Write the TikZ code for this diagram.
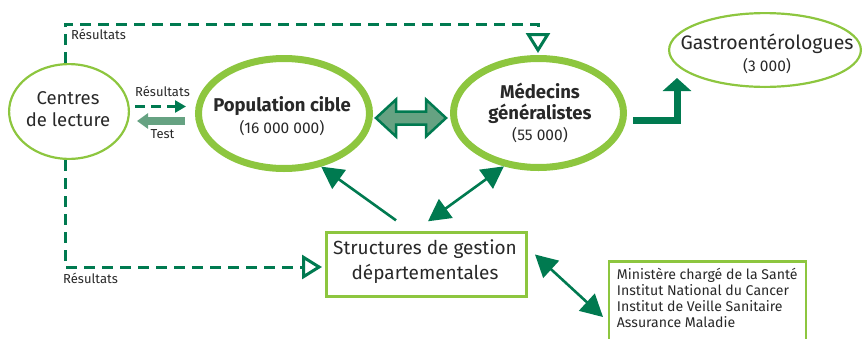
\documentclass[tikz,border=0pt]{standalone}
\usepackage{fontspec}
\setmainfont{Fira Sans}
\usetikzlibrary{arrows.meta,shapes.geometric,calc}
\definecolor{leaf}{RGB}{141,198,63}
\definecolor{pine}{RGB}{0,122,80}
\definecolor{sage}{RGB}{102,162,130}
\definecolor{ink}{RGB}{40,40,40}
\begin{document}
\begin{tikzpicture}[x=1pt,y=-1pt,
  txt/.style={inner sep=0pt, text height=0.69em, text depth=0pt, text=ink},
  big/.style={txt, font=\fontsize{18.5}{18.5}\selectfont},
  bigb/.style={txt, font=\fontsize{18.5}{18.5}\selectfont\bfseries},
  count/.style={txt, font=\fontsize{15.5}{15.5}\selectfont},
  small/.style={txt, font=\fontsize{13}{13}\selectfont},
  listing/.style={txt, anchor=west, font=\fontsize{14.1}{14.1}\selectfont},
  thinoval/.style={ellipse, draw=leaf, line width=2.2pt, inner sep=0pt},
  fatoval/.style={ellipse, draw=leaf, line width=7pt, inner sep=0pt},
  panel/.style={rectangle, draw=leaf, line width=2.6pt, inner sep=0pt},
  link/.style={draw=pine, line width=2.6pt},
  headtip/.style={-{Triangle[length=22pt,width=23pt]}},
  bothtips/.style={{Triangle[length=22pt,width=23pt]}-{Triangle[length=22pt,width=23pt]}},
  dashlink/.style={draw=pine, line width=3pt, dash pattern=on 11pt off 7pt},
  hollowtip/.style={-{Triangle[open,length=20pt,width=24pt]}},
]
\useasboundingbox (0,0) rectangle (863,338);

% ovals
\node[thinoval, minimum width=119.8pt, minimum height=94.8pt] (cl) at (69,111.5) {};
\node[fatoval, minimum width=171pt, minimum height=110pt] (pc) at (284,113.5) {};
\node[fatoval, minimum width=170pt, minimum height=109pt] (md) at (538.5,113) {};
\node[thinoval, minimum width=191.8pt, minimum height=73.8pt] (ga) at (765,50) {};

% oval texts
\node[big] (clA) at (68,101.5) {Centres};
\node[big] (clB) at (68,123) {de lecture};
\node[bigb] (pcA) at (282,108) {Population cible};
\node[count] (pcB) at (282,130.5) {(16 000 000)};
\node[bigb] (mdA) at (540,95.5) {Médecins};
\node[bigb] (mdB) at (540,116) {généralistes};
\node[count] (mdC) at (540,137) {(55 000)};
\node[big, font=\fontsize{19.5}{19.5}\selectfont] (gaA) at (767,46.5) {Gastroentérologues};
\node[count] (gaB) at (767,68.5) {(3 000)};

% boxes
\node[panel, minimum width=200.4pt, minimum height=64.4pt] (st) at (426.5,264.5) {};
\node[big, font=\fontsize{19}{19}\selectfont] (stA) at (425,251) {Structures de gestion};
\node[big, font=\fontsize{19}{19}\selectfont] (stB) at (425,276) {départementales};

\node[panel, anchor=north west, minimum width=197pt, minimum height=95pt] (mi) at (607.7,260) {};
\node[listing] (miA) at (616.7,276) {Ministère chargé de la Santé};
\node[listing] (miB) at (616.7,292) {Institut National du Cancer};
\node[listing] (miC) at (616.7,308) {Institut de Veille Sanitaire};
\node[listing] (miD) at (616.7,324.5) {Assurance Maladie};

% results feedback loops
\coordinate (tl) at (65,24);
\coordinate (tr) at (538,24);
\coordinate (bl) at (65,267);
\draw[dashlink, hollowtip, shorten >=2pt] (cl.north -| tl) -- (tl) -- (tr) -- (md.north -| tr);
\draw[dashlink, hollowtip, shorten >=3pt] (cl.south -| bl) -- (bl) -- (st.west |- bl);
\node[small, anchor=west] (r1) at (71,36.5) {Résultats};
\node[small, anchor=west] (r3) at (63,280) {Résultats};

% test / results between reading centres and population
\coordinate (ra) at ($(cl.east)+(5,-5)$);
\coordinate (rb) at ($(pc.west)+(-9,0)$);
\draw[draw=pine, line width=2.5pt, dash pattern=on 10pt off 6pt, -{Triangle[length=11pt,width=12pt]}] (ra) -- (ra -| rb);
\coordinate (ta) at ($(pc.west)+(-10,7.5)$);
\coordinate (tb) at ($(cl.east)+(7,0)$);
\draw[draw=sage, line width=7.5pt, -{Triangle[length=11pt,width=15pt]}] (ta) -- (ta -| tb);
\node[small] (r2) at (162.5,93.5) {Résultats};
\node[small] (t1) at (162.5,135) {Test};

% fat two-way arrow between population and GPs
\coordinate (da) at ($(pc.east)+(3,4.5)$);
\coordinate (db) at ($(md.west)+(-4,5)$);
\filldraw[fill=sage, draw=pine, line width=2.5pt, line join=miter]
  (da) -- ($(da)+(20,-18.5)$) -- ($(da)+(20,-6.5)$) -- ($(db)+(-20,-6.5)$)
  -- ($(db)+(-20,-18.5)$) -- (db) -- ($(db)+(-20,18.5)$) -- ($(db)+(-20,6.5)$)
  -- ($(da)+(20,6.5)$) -- ($(da)+(20,18.5)$) -- cycle;

% referral to gastroenterologists
\coordinate (gs) at ($(md.east)+(6,7.5)$);
\coordinate (gt) at (677,78);
\draw[draw=pine, line width=7pt, -{Triangle[length=13pt,width=28pt]}] (gs) -| (gt);

% links from the departmental structures
\draw[link, headtip] ($(st.north)+(-30.5,-10.7)$) -- (pc.-55);
\draw[link, bothtips] ($(st.north)+(1.5,-9.7)$) -- (md.-123);
\draw[link, bothtips] ($(st.east)+(7,-10)$) -- ($(mi.north west)+(-4.7,57)$);
\end{tikzpicture}
\end{document}
